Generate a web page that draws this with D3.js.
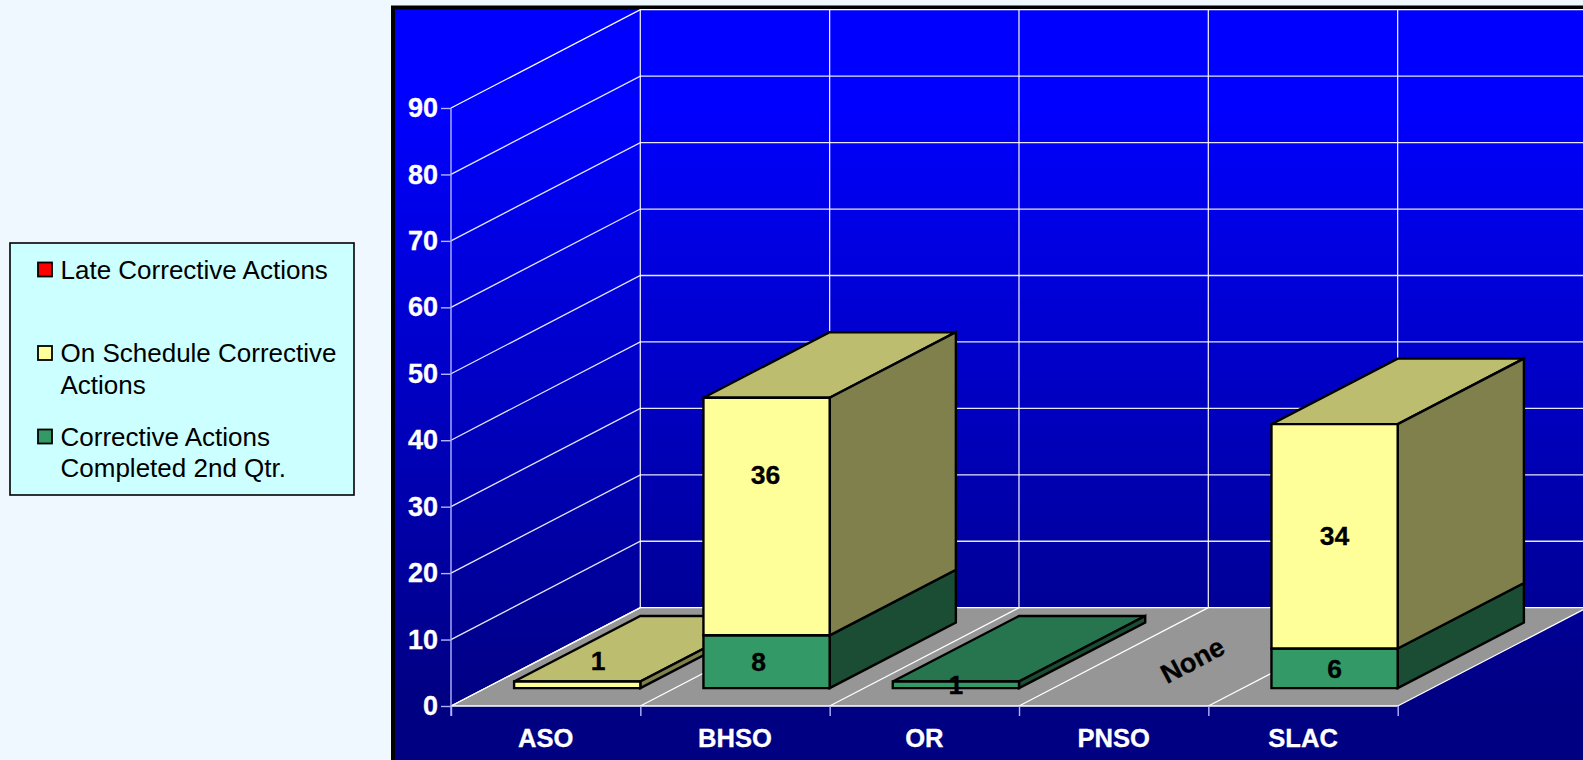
<!DOCTYPE html>
<html>
<head>
<meta charset="utf-8">
<title>Corrective Actions</title>
<script src="https://cdn.jsdelivr.net/npm/d3@7"></script>
<style>
  html, body { margin: 0; padding: 0; background: #f0f8ff; overflow: hidden; }
  svg { display: block; font-family: "Liberation Sans", Arial, sans-serif; }
</style>
</head>
<body>
<svg id="chart" width="1583" height="760"></svg>
<script>
var categories = ["ASO", "BHSO", "OR", "PNSO", "SLAC"];
var completed  = [0, 8, 1, 0, 6];
var onSchedule = [1, 36, 0, 0, 34];
var late       = [0, 0, 0, 0, 0];
var yTicks     = [0, 10, 20, 30, 40, 50, 60, 70, 80, 90];
var legendLabels = [
    ["Late Corrective Actions"],
    ["On Schedule Corrective", "Actions"],
    ["Corrective Actions", "Completed 2nd Qtr."]
];

var colors = {
    late:       { front: "#ff0000", side: "#800000", top: "#bd0000" },
    onSchedule: { front: "#ffff99", side: "#80804d", top: "#bdbd70" },
    completed:  { front: "#339966", side: "#1a4d33", top: "#27754f" }
};

var svg = d3.select("#chart");

// scales, the chart is an oblique box so x and y each get a shift for depth
var x = d3.scaleLinear().domain([0, 5]).range([451, 1397.7]);
var band = d3.scaleBand().domain(categories).range([451, 1397.7]);
var y = d3.scaleLinear().domain([0, 90]).range([706, 108]);
var barY = d3.scaleLinear().domain([0, 90]).range([704.5, 110.5]);
var depthX = d3.scaleLinear().domain([0, 1]).range([0, 189.3]);
var depthY = d3.scaleLinear().domain([0, 1]).range([0, -98.3]);

var project = function(c, d, v, yScale) {
    return [x(c) + depthX(d), (yScale || y)(v) + depthY(d)];
};
var line = d3.line();
var polygon = function(pts) { return line(pts) + "Z"; };

// background
var defs = svg.append("defs");
var grad = defs.append("linearGradient").attr("id", "wall")
    .attr("x1", 0).attr("y1", 0).attr("x2", 0).attr("y2", 1);
grad.append("stop").attr("offset", 0.12).attr("stop-color", "#0000ff");
grad.append("stop").attr("offset", 0.86).attr("stop-color", "#000084");
grad.append("stop").attr("offset", 1).attr("stop-color", "#000080");

svg.append("rect")
    .attr("x", 393).attr("y", 7.5).attr("width", 1300).attr("height", 800)
    .attr("fill", "url(#wall)")
    .attr("stroke", "#000").attr("stroke-width", 4);

// floor
svg.append("path")
    .attr("d", polygon([project(0, 0, 0), project(5, 0, 0), project(5, 1, 0), project(0, 1, 0)]))
    .attr("fill", "#969696");

// gridlines
var grid = svg.append("g").attr("fill", "none").attr("stroke", "#fff").attr("stroke-width", 1.3);
grid.selectAll(".wall").data(yTicks).join("path").attr("class", "wall")
    .attr("d", function(v) { return line([project(0, 0, v), project(0, 1, v), project(5, 1, v)]); })
    .attr("stroke-opacity", function(v) { return v === 0 || v === 90 ? 1 : 0.9; });
grid.selectAll(".back").data(d3.range(0, 6)).join("path").attr("class", "back")
    .attr("d", function(c) { return line([project(c, 1, 0), project(c, 1, 90)]); })
    .attr("stroke-opacity", 0.9);
grid.selectAll(".floor").data(d3.range(0, 6)).join("path").attr("class", "floor")
    .attr("d", function(c) { return line([project(c, 0, 0), project(c, 1, 0)]); });
grid.append("path").attr("d", line([project(0, 0, 0), project(5, 0, 0)]));

// axes
var yAxis = svg.append("g").attr("class", "yaxis").attr("transform", "translate(451,0)")
    .call(d3.axisLeft(y).tickValues(yTicks).tickSize(10).tickPadding(3).tickSizeOuter(0));
var xTicks = svg.append("g").attr("transform", "translate(0,706)")
    .call(d3.axisBottom(x).tickValues(d3.range(0, 6)).tickFormat("").tickSize(10).tickSizeOuter(0));
var xAxis = svg.append("g").attr("transform", "translate(0,706)")
    .call(d3.axisBottom(band).tickSize(0).tickPadding(22.5));
xAxis.select(".domain").remove();
xTicks.select(".domain").remove();

svg.append("path")
    .attr("d", line([project(0, 0, 90), project(0, 0, 0), [x(0), y(0) + 10]]))
    .attr("fill", "none").attr("stroke", "#b3b3ff").attr("stroke-width", 1.4);
yAxis.select(".domain").remove();
svg.selectAll(".tick line").attr("stroke", "#b3b3ff").attr("stroke-width", 1.4);
svg.selectAll(".tick text")
    .attr("fill", "#fff").attr("font-size", 25.6).attr("font-weight", "bold")
    .attr("stroke", "#fff").attr("stroke-width", 0.3)
    .attr("font-family", '"Liberation Sans", Arial, sans-serif');
yAxis.selectAll(".tick text").attr("font-size", 27);

// stacked boxes
var rows = categories.map(function(name, i) {
    return { name: name, completed: completed[i], onSchedule: onSchedule[i], late: late[i] };
});
var stack = d3.stack().keys(["completed", "onSchedule", "late"])(rows);

var barsG = svg.append("g").attr("stroke", "#000").attr("stroke-width", 2.4).attr("stroke-linejoin", "miter");
var labels = [];

categories.forEach(function(name, i) {
    var c0 = i + 1 / 6, c1 = i + 5 / 6, d0 = 1 / 6, d1 = 5 / 6;
    stack.forEach(function(layer) {
        var v0 = layer[i][0], v1 = layer[i][1];
        if (v1 <= v0) return;
        var col = colors[layer.key];
        var p = function(c, d, v) { return project(c, d, v, barY); };
        var g = barsG.append("g").attr("class", "box");
        g.append("path").attr("fill", col.top)
            .attr("d", polygon([p(c0, d0, v1), p(c1, d0, v1), p(c1, d1, v1), p(c0, d1, v1)]));
        g.append("path").attr("fill", col.side)
            .attr("d", polygon([p(c1, d0, v0), p(c1, d1, v0), p(c1, d1, v1), p(c1, d0, v1)]));
        g.append("path").attr("fill", col.front)
            .attr("d", polygon([p(c0, d0, v0), p(c1, d0, v0), p(c1, d0, v1), p(c0, d0, v1)]));
        var mid = p((c0 + c1) / 2, d0, (v0 + v1) / 2);
        labels.push({ text: v1 - v0, x: mid[0], y: mid[1], key: name + layer.key });
    });
});

// the data labels that were dragged away from the centre of their box
var labelMoves = {
    ASOonSchedule: [21, -24],
    BHSOcompleted: [-8, 0],
    BHSOonSchedule: [-1, -42],
    SLAConSchedule: [0, -1]
};

svg.append("g").selectAll("text").data(labels).join("text")
    .attr("x", function(d) { return d.x + (labelMoves[d.key] ? labelMoves[d.key][0] : 0); })
    .attr("y", function(d) { return d.y + (labelMoves[d.key] ? labelMoves[d.key][1] : 0); })
    .attr("dy", "0.36em")
    .attr("text-anchor", "middle")
    .attr("font-size", 26.5).attr("font-weight", "bold").attr("fill", "#000")
    .attr("stroke", "#000").attr("stroke-width", 0.3)
    .text(function(d) { return d.text; });

// PNSO has nothing to draw, the original writes on the floor instead
var nonePos = project(categories.indexOf("PNSO") + 0.5, 0.5, 0);
svg.append("text")
    .attr("transform", "translate(" + (nonePos[0] - 16) + "," + (nonePos[1] + 3) + ") rotate(-28)")
    .attr("dy", "0.36em")
    .attr("text-anchor", "middle")
    .attr("font-size", 27).attr("font-weight", "bold").attr("fill", "#000")
    .attr("stroke", "#000").attr("stroke-width", 0.3)
    .text("None");

// legend
var legend = svg.append("g");
legend.append("rect")
    .attr("x", 10).attr("y", 243).attr("width", 344).attr("height", 252)
    .attr("fill", "#ccffff").attr("stroke", "#000").attr("stroke-width", 1.6);

var legendKeys = ["late", "onSchedule", "completed"];
var legendRow = d3.scaleOrdinal().domain(legendKeys).range([270, 353.5, 437]);
var legendItems = legend.selectAll(".item").data(legendKeys).join("g")
    .attr("class", "item")
    .attr("transform", function(k) { return "translate(0," + legendRow(k) + ")"; });

legendItems.append("rect")
    .attr("x", 38).attr("y", -7.5).attr("width", 14).attr("height", 14)
    .attr("fill", function(k) { return colors[k].front; })
    .attr("stroke", "#000").attr("stroke-width", 1.8);

legendItems.each(function(k, i) {
    d3.select(this).selectAll("text").data(legendLabels[i]).join("text")
        .attr("x", 60.5)
        .attr("y", function(t, j) { return j * 31.5; })
        .attr("dy", "0.33em")
        .attr("font-size", 26).attr("fill", "#000")
        .text(function(t) { return t; });
});
</script>
</body>
</html>
